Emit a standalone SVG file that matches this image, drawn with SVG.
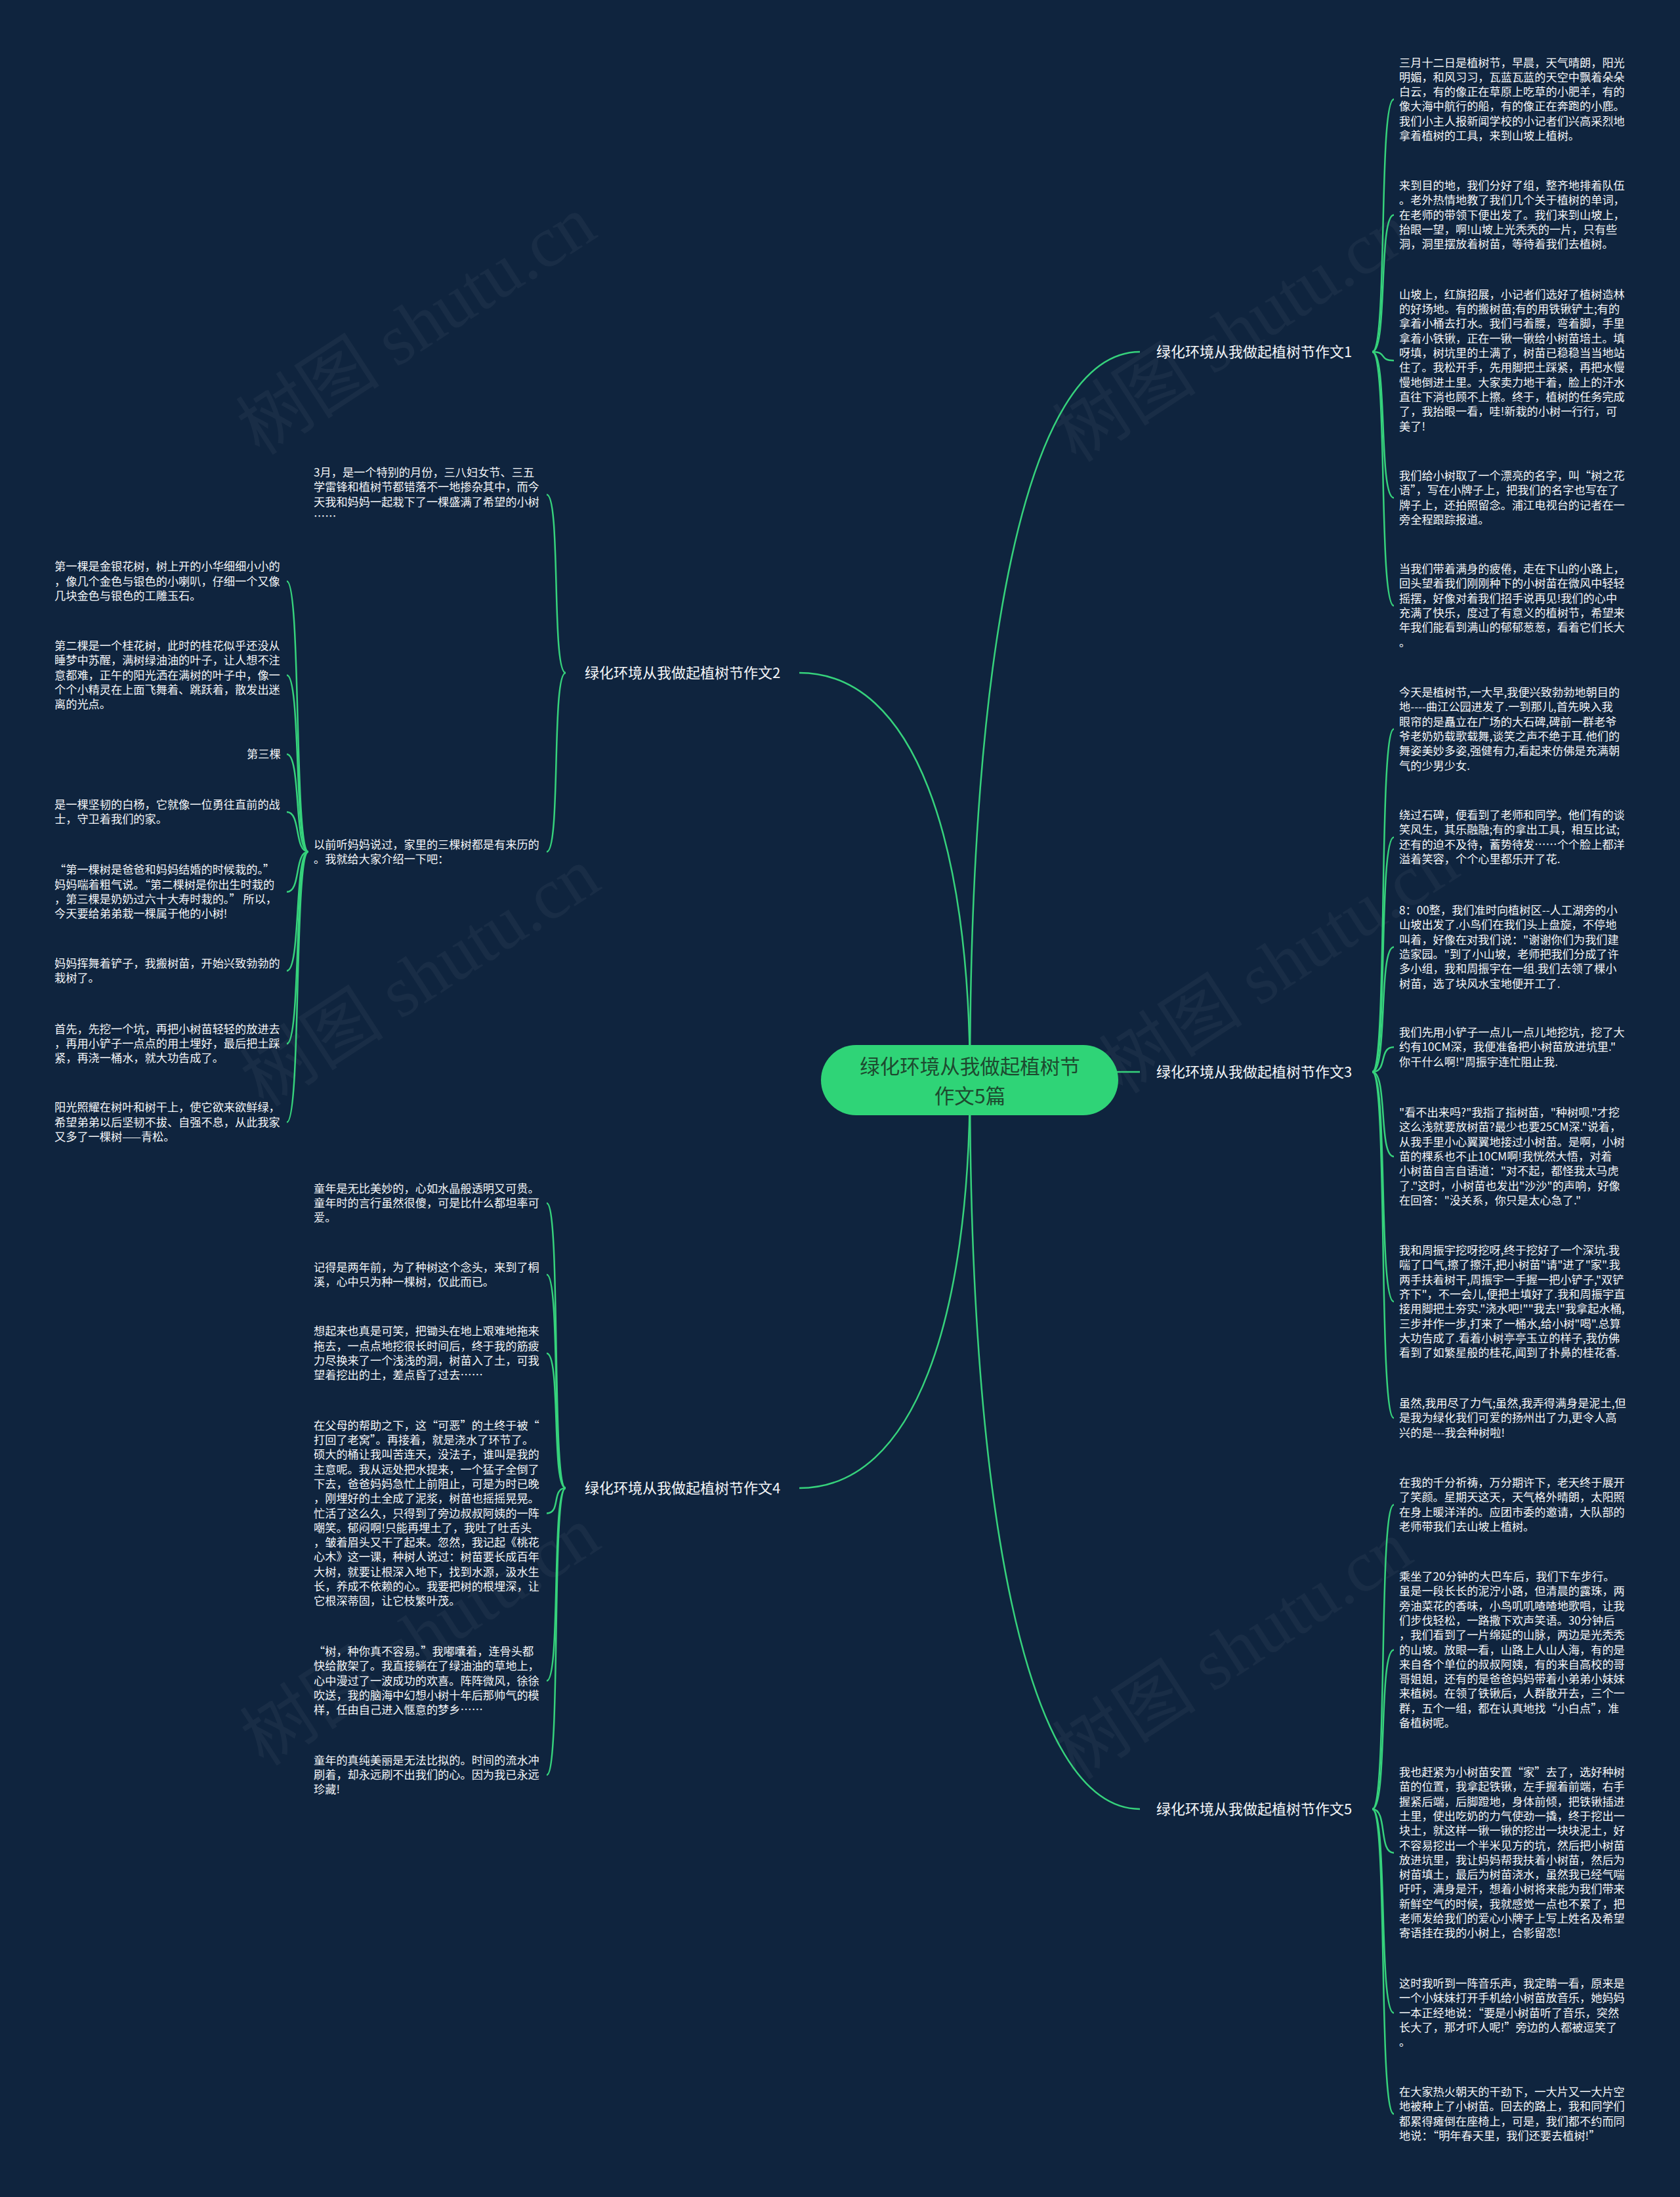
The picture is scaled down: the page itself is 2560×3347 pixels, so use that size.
<svg xmlns="http://www.w3.org/2000/svg" width="2560" height="3347" viewBox="0 0 2560 3347">
<style>
.t{font-family:"Noto Sans CJK SC","Noto Sans",sans-serif;font-size:17.2px;fill:#f4f6f8}
.b{font-family:"Noto Sans CJK SC","Noto Sans",sans-serif;font-size:22px;fill:#f4f6f8}
.c{font-family:"Noto Sans CJK SC","Noto Sans",sans-serif;font-size:30.5px;fill:#1d4a2f;text-anchor:middle}
.ln{fill:none;stroke:#36d27c;stroke-width:2.5}
.wm{font-family:"Liberation Serif","Noto Sans CJK SC",serif;font-size:110px;fill:#ffffff;opacity:0.04;text-anchor:middle}
</style>
<rect width="2560" height="3347" fill="#0f243e"/>
<g id="watermarks">
<text class="wm" x="645" y="530" transform="rotate(-33 645 512)">树图 shutu.cn</text>
<text class="wm" x="1889" y="541" transform="rotate(-33 1889 523)">树图 shutu.cn</text>
<text class="wm" x="651" y="1523" transform="rotate(-33 651 1505)">树图 shutu.cn</text>
<text class="wm" x="1960" y="1503" transform="rotate(-33 1960 1485)">树图 shutu.cn</text>
<text class="wm" x="651" y="2527" transform="rotate(-33 651 2509)">树图 shutu.cn</text>
<text class="wm" x="1889" y="2548" transform="rotate(-33 1889 2530)">树图 shutu.cn</text>
</g>
<g id="connectors">
<path class="ln" d="M1478,1645 C1478,1002 1561,536 1737,536"/>
<path class="ln" d="M1478,1633 L1737,1633"/>
<path class="ln" d="M1478,1645 C1478,2289 1561,2756 1737,2756"/>
<path class="ln" d="M1478,1645 C1478,1285 1395,1025 1218,1025"/>
<path class="ln" d="M1478,1645 C1478,2006 1395,2267 1218,2267"/>
<path class="ln" d="M2091,536 C2115,536 2100,151.3 2124,151.3"/>
<path class="ln" d="M2091,536 C2115,536 2100,327.6 2124,327.6"/>
<path class="ln" d="M2091,536 C2115,536 2100,549.2 2124,549.2"/>
<path class="ln" d="M2091,536 C2115,536 2100,758.5 2124,758.5"/>
<path class="ln" d="M2091,536 C2115,536 2100,922.8 2124,922.8"/>
<path class="ln" d="M2091,1633 C2115,1633 2100,1110.8 2124,1110.8"/>
<path class="ln" d="M2091,1633 C2115,1633 2100,1275.5 2124,1275.5"/>
<path class="ln" d="M2091,1633 C2115,1633 2100,1442.8 2124,1442.8"/>
<path class="ln" d="M2091,1633 C2115,1633 2100,1595.3 2124,1595.3"/>
<path class="ln" d="M2091,1633 C2115,1633 2100,1761.9 2124,1761.9"/>
<path class="ln" d="M2091,1633 C2115,1633 2100,1983 2124,1983"/>
<path class="ln" d="M2091,1633 C2115,1633 2100,2160.3 2124,2160.3"/>
<path class="ln" d="M2091,2756 C2115,2756 2100,2292.5 2124,2292.5"/>
<path class="ln" d="M2091,2756 C2115,2756 2100,2513.5 2124,2513.5"/>
<path class="ln" d="M2091,2756 C2115,2756 2100,2822.7 2124,2822.7"/>
<path class="ln" d="M2091,2756 C2115,2756 2100,3066.6 2124,3066.6"/>
<path class="ln" d="M2091,2756 C2115,2756 2100,3220.5 2124,3220.5"/>
<path class="ln" d="M862,1025 C840,1025 855,753.5 833,753.5"/>
<path class="ln" d="M862,1025 C840,1025 855,1297.6 833,1297.6"/>
<path class="ln" d="M862,2267 C840,2267 855,1833 833,1833"/>
<path class="ln" d="M862,2267 C840,2267 855,1941.8 833,1941.8"/>
<path class="ln" d="M862,2267 C840,2267 855,2061.8 833,2061.8"/>
<path class="ln" d="M862,2267 C840,2267 855,2305.5 833,2305.5"/>
<path class="ln" d="M862,2267 C840,2267 855,2560.6 833,2560.6"/>
<path class="ln" d="M862,2267 C840,2267 855,2704 833,2704"/>
<path class="ln" d="M470,1297.6 C448,1297.6 459,885.6 437,885.6"/>
<path class="ln" d="M470,1297.6 C448,1297.6 459,1028.6 437,1028.6"/>
<path class="ln" d="M470,1297.6 C448,1297.6 459,1149 437,1149"/>
<path class="ln" d="M470,1297.6 C448,1297.6 459,1237 437,1237"/>
<path class="ln" d="M470,1297.6 C448,1297.6 459,1358.8 437,1358.8"/>
<path class="ln" d="M470,1297.6 C448,1297.6 459,1479 437,1479"/>
<path class="ln" d="M470,1297.6 C448,1297.6 459,1590.1 437,1590.1"/>
<path class="ln" d="M470,1297.6 C448,1297.6 459,1709.6 437,1709.6"/>
</g>
<g id="center">
<rect x="1251" y="1592" width="453" height="107" rx="53.5" fill="#2fd477"/>
<text class="c" x="1478" y="1635.5"><tspan x="1478" y="1635.5">绿化环境从我做起植树节</tspan><tspan x="1478" y="1680.5">作文5篇</tspan></text>
</g>
<g id="branch1"><text class="b" x="1762" y="544">绿化环境从我做起植树节作文1</text></g>
<g id="branch2"><text class="b" x="891" y="1033">绿化环境从我做起植树节作文2</text></g>
<g id="branch3"><text class="b" x="1762" y="1641">绿化环境从我做起植树节作文3</text></g>
<g id="branch4"><text class="b" x="891" y="2275">绿化环境从我做起植树节作文4</text></g>
<g id="branch5"><text class="b" x="1762" y="2764">绿化环境从我做起植树节作文5</text></g>
<g id="b1-1"><text class="t" x="2132" y="101.5"><tspan x="2132">三月十二日是植树节，早晨，天气晴朗，阳光</tspan><tspan x="2132" dy="22.3">明媚，和风习习，瓦蓝瓦蓝的天空中飘着朵朵</tspan><tspan x="2132" dy="22.3">白云，有的像正在草原上吃草的小肥羊，有的</tspan><tspan x="2132" dy="22.3">像大海中航行的船，有的像正在奔跑的小鹿。</tspan><tspan x="2132" dy="22.3">我们小主人报新闻学校的小记者们兴高采烈地</tspan><tspan x="2132" dy="22.3">拿着植树的工具，来到山坡上植树。</tspan></text></g>
<g id="b1-2"><text class="t" x="2132" y="289"><tspan x="2132">来到目的地，我们分好了组，整齐地排着队伍</tspan><tspan x="2132" dy="22.3">。老外热情地教了我们几个关于植树的单词，</tspan><tspan x="2132" dy="22.3">在老师的带领下便出发了。我们来到山坡上，</tspan><tspan x="2132" dy="22.3">抬眼一望，啊!山坡上光秃秃的一片，只有些</tspan><tspan x="2132" dy="22.3">洞，洞里摆放着树苗，等待着我们去植树。</tspan></text></g>
<g id="b1-3"><text class="t" x="2132" y="454.8"><tspan x="2132">山坡上，红旗招展，小记者们选好了植树造林</tspan><tspan x="2132" dy="22.3">的好场地。有的搬树苗;有的用铁锹铲土;有的</tspan><tspan x="2132" dy="22.3">拿着小桶去打水。我们弓着腰，弯着脚，手里</tspan><tspan x="2132" dy="22.3">拿着小铁锹，正在一锹一锹给小树苗培土。填</tspan><tspan x="2132" dy="22.3">呀填，树坑里的土满了，树苗已稳稳当当地站</tspan><tspan x="2132" dy="22.3">住了。我松开手，先用脚把土踩紧，再把水慢</tspan><tspan x="2132" dy="22.3">慢地倒进土里。大家卖力地干着，脸上的汗水</tspan><tspan x="2132" dy="22.3">直往下淌也顾不上擦。终于，植树的任务完成</tspan><tspan x="2132" dy="22.3">了，我抬眼一看，哇!新栽的小树一行行，可</tspan><tspan x="2132" dy="22.3">美了!</tspan></text></g>
<g id="b1-4"><text class="t" x="2132" y="731"><tspan x="2132">我们给小树取了一个漂亮的名字，叫“树之花</tspan><tspan x="2132" dy="22.3">语”，写在小牌子上，把我们的名字也写在了</tspan><tspan x="2132" dy="22.3">牌子上，还拍照留念。浦江电视台的记者在一</tspan><tspan x="2132" dy="22.3">旁全程跟踪报道。</tspan></text></g>
<g id="b1-5"><text class="t" x="2132" y="873"><tspan x="2132">当我们带着满身的疲倦，走在下山的小路上，</tspan><tspan x="2132" dy="22.3">回头望着我们刚刚种下的小树苗在微风中轻轻</tspan><tspan x="2132" dy="22.3">摇摆，好像对着我们招手说再见!我们的心中</tspan><tspan x="2132" dy="22.3">充满了快乐，度过了有意义的植树节，希望来</tspan><tspan x="2132" dy="22.3">年我们能看到满山的郁郁葱葱，看着它们长大</tspan><tspan x="2132" dy="22.3">。</tspan></text></g>
<g id="b3-1"><text class="t" x="2132" y="1061"><tspan x="2132">今天是植树节,一大早,我便兴致勃勃地朝目的</tspan><tspan x="2132" dy="22.3">地----曲江公园进发了.一到那儿,首先映入我</tspan><tspan x="2132" dy="22.3">眼帘的是矗立在广场的大石碑,碑前一群老爷</tspan><tspan x="2132" dy="22.3">爷老奶奶载歌载舞,谈笑之声不绝于耳.他们的</tspan><tspan x="2132" dy="22.3">舞姿美妙多姿,强健有力,看起来仿佛是充满朝</tspan><tspan x="2132" dy="22.3">气的少男少女.</tspan></text></g>
<g id="b3-2"><text class="t" x="2132" y="1248"><tspan x="2132">绕过石碑，便看到了老师和同学。他们有的谈</tspan><tspan x="2132" dy="22.3">笑风生，其乐融融;有的拿出工具，相互比试;</tspan><tspan x="2132" dy="22.3">还有的迫不及待，蓄势待发……个个脸上都洋</tspan><tspan x="2132" dy="22.3">溢着笑容，个个心里都乐开了花.</tspan></text></g>
<g id="b3-3"><text class="t" x="2132" y="1393"><tspan x="2132">8：00整，我们准时向植树区--人工湖旁的小</tspan><tspan x="2132" dy="22.3">山坡出发了.小鸟们在我们头上盘旋，不停地</tspan><tspan x="2132" dy="22.3">叫着，好像在对我们说："谢谢你们为我们建</tspan><tspan x="2132" dy="22.3">造家园。"到了小山坡，老师把我们分成了许</tspan><tspan x="2132" dy="22.3">多小组，我和周振宇在一组.我们去领了棵小</tspan><tspan x="2132" dy="22.3">树苗，选了块风水宝地便开工了.</tspan></text></g>
<g id="b3-4"><text class="t" x="2132" y="1579"><tspan x="2132">我们先用小铲子一点儿一点儿地挖坑，挖了大</tspan><tspan x="2132" dy="22.3">约有10CM深，我便准备把小树苗放进坑里."</tspan><tspan x="2132" dy="22.3">你干什么啊!"周振宇连忙阻止我.</tspan></text></g>
<g id="b3-5"><text class="t" x="2132" y="1701"><tspan x="2132">"看不出来吗?"我指了指树苗，"种树呗."才挖</tspan><tspan x="2132" dy="22.3">这么浅就要放树苗?最少也要25CM深."说着，</tspan><tspan x="2132" dy="22.3">从我手里小心翼翼地接过小树苗。是啊，小树</tspan><tspan x="2132" dy="22.3">苗的棵系也不止10CM啊!我恍然大悟，对着</tspan><tspan x="2132" dy="22.3">小树苗自言自语道："对不起，都怪我太马虎</tspan><tspan x="2132" dy="22.3">了."这时，小树苗也发出"沙沙"的声响，好像</tspan><tspan x="2132" dy="22.3">在回答："没关系，你只是太心急了."</tspan></text></g>
<g id="b3-6"><text class="t" x="2132" y="1911"><tspan x="2132">我和周振宇挖呀挖呀,终于挖好了一个深坑.我</tspan><tspan x="2132" dy="22.3">喘了口气,擦了擦汗,把小树苗"请"进了"家".我</tspan><tspan x="2132" dy="22.3">两手扶着树干,周振宇一手握一把小铲子,"双铲</tspan><tspan x="2132" dy="22.3">齐下"，不一会儿,便把土填好了.我和周振宇直</tspan><tspan x="2132" dy="22.3">接用脚把土夯实."浇水吧!""我去!"我拿起水桶,</tspan><tspan x="2132" dy="22.3">三步并作一步,打来了一桶水,给小树"喝".总算</tspan><tspan x="2132" dy="22.3">大功告成了.看着小树亭亭玉立的样子,我仿佛</tspan><tspan x="2132" dy="22.3">看到了如繁星般的桂花,闻到了扑鼻的桂花香.</tspan></text></g>
<g id="b3-7"><text class="t" x="2132" y="2144"><tspan x="2132">虽然,我用尽了力气;虽然,我弄得满身是泥土,但</tspan><tspan x="2132" dy="22.3">是我为绿化我们可爱的扬州出了力,更令人高</tspan><tspan x="2132" dy="22.3">兴的是---我会种树啦!</tspan></text></g>
<g id="b5-1"><text class="t" x="2132" y="2265"><tspan x="2132">在我的千分祈祷，万分期许下，老天终于展开</tspan><tspan x="2132" dy="22.3">了笑颜。星期天这天，天气格外晴朗，太阳照</tspan><tspan x="2132" dy="22.3">在身上暖洋洋的。应团市委的邀请，大队部的</tspan><tspan x="2132" dy="22.3">老师带我们去山坡上植树。</tspan></text></g>
<g id="b5-2"><text class="t" x="2132" y="2408"><tspan x="2132">乘坐了20分钟的大巴车后，我们下车步行。</tspan><tspan x="2132" dy="22.3">虽是一段长长的泥泞小路，但清晨的露珠，两</tspan><tspan x="2132" dy="22.3">旁油菜花的香味，小鸟叽叽喳喳地歌唱，让我</tspan><tspan x="2132" dy="22.3">们步伐轻松，一路撒下欢声笑语。30分钟后</tspan><tspan x="2132" dy="22.3">，我们看到了一片绵延的山脉，两边是光秃秃</tspan><tspan x="2132" dy="22.3">的山坡。放眼一看，山路上人山人海，有的是</tspan><tspan x="2132" dy="22.3">来自各个单位的叔叔阿姨，有的来自高校的哥</tspan><tspan x="2132" dy="22.3">哥姐姐，还有的是爸爸妈妈带着小弟弟小妹妹</tspan><tspan x="2132" dy="22.3">来植树。在领了铁锹后，人群散开去，三个一</tspan><tspan x="2132" dy="22.3">群，五个一组，都在认真地找“小白点”，准</tspan><tspan x="2132" dy="22.3">备植树呢。</tspan></text></g>
<g id="b5-3"><text class="t" x="2132" y="2706"><tspan x="2132">我也赶紧为小树苗安置“家”去了，选好种树</tspan><tspan x="2132" dy="22.3">苗的位置，我拿起铁锹，左手握着前端，右手</tspan><tspan x="2132" dy="22.3">握紧后端，后脚蹬地，身体前倾，把铁锹插进</tspan><tspan x="2132" dy="22.3">土里，使出吃奶的力气使劲一撬，终于挖出一</tspan><tspan x="2132" dy="22.3">块土，就这样一锹一锹的挖出一块块泥土，好</tspan><tspan x="2132" dy="22.3">不容易挖出一个半米见方的坑，然后把小树苗</tspan><tspan x="2132" dy="22.3">放进坑里，我让妈妈帮我扶着小树苗，然后为</tspan><tspan x="2132" dy="22.3">树苗填土，最后为树苗浇水，虽然我已经气喘</tspan><tspan x="2132" dy="22.3">吁吁，满身是汗，想着小树将来能为我们带来</tspan><tspan x="2132" dy="22.3">新鲜空气的时候，我就感觉一点也不累了，把</tspan><tspan x="2132" dy="22.3">老师发给我们的爱心小牌子上写上姓名及希望</tspan><tspan x="2132" dy="22.3">寄语挂在我的小树上，合影留恋!</tspan></text></g>
<g id="b5-4"><text class="t" x="2132" y="3028"><tspan x="2132">这时我听到一阵音乐声，我定睛一看，原来是</tspan><tspan x="2132" dy="22.3">一个小妹妹打开手机给小树苗放音乐，她妈妈</tspan><tspan x="2132" dy="22.3">一本正经地说：“要是小树苗听了音乐，突然</tspan><tspan x="2132" dy="22.3">长大了，那才吓人呢!”旁边的人都被逗笑了</tspan><tspan x="2132" dy="22.3">。</tspan></text></g>
<g id="b5-5"><text class="t" x="2132" y="3193"><tspan x="2132">在大家热火朝天的干劲下，一大片又一大片空</tspan><tspan x="2132" dy="22.3">地被种上了小树苗。回去的路上，我和同学们</tspan><tspan x="2132" dy="22.3">都累得瘫倒在座椅上，可是，我们都不约而同</tspan><tspan x="2132" dy="22.3">地说：“明年春天里，我们还要去植树!”</tspan></text></g>
<g id="b2-1"><text class="t" x="478" y="726"><tspan x="478">3月，是一个特别的月份，三八妇女节、三五</tspan><tspan x="478" dy="22.3">学雷锋和植树节都错落不一地掺杂其中，而今</tspan><tspan x="478" dy="22.3">天我和妈妈一起栽下了一棵盛满了希望的小树</tspan><tspan x="478" dy="22.3">……</tspan></text></g>
<g id="b2-2"><text class="t" x="478" y="1292.5"><tspan x="478">以前听妈妈说过，家里的三棵树都是有来历的</tspan><tspan x="478" dy="22.3">。我就给大家介绍一下吧：</tspan></text></g>
<g id="b2-2-1"><text class="t" x="83" y="869.3"><tspan x="83">第一棵是金银花树，树上开的小华细细小小的</tspan><tspan x="83" dy="22.3">，像几个金色与银色的小喇叭，仔细一个又像</tspan><tspan x="83" dy="22.3">几块金色与银色的工雕玉石。</tspan></text></g>
<g id="b2-2-2"><text class="t" x="83" y="990"><tspan x="83">第二棵是一个桂花树，此时的桂花似乎还没从</tspan><tspan x="83" dy="22.3">睡梦中苏醒，满树绿油油的叶子，让人想不注</tspan><tspan x="83" dy="22.3">意都难，正午的阳光洒在满树的叶子中，像一</tspan><tspan x="83" dy="22.3">个个小精灵在上面飞舞着、跳跃着，散发出迷</tspan><tspan x="83" dy="22.3">离的光点。</tspan></text></g>
<g id="b2-2-3"><text class="t" x="376" y="1155">第三棵</text></g>
<g id="b2-2-4"><text class="t" x="83" y="1232"><tspan x="83">是一棵坚韧的白杨，它就像一位勇往直前的战</tspan><tspan x="83" dy="22.3">士，守卫着我们的家。</tspan></text></g>
<g id="b2-2-5"><text class="t" x="83" y="1331.3"><tspan x="83">“第一棵树是爸爸和妈妈结婚的时候栽的。”</tspan><tspan x="83" dy="22.3">妈妈喘着粗气说。“第二棵树是你出生时栽的</tspan><tspan x="83" dy="22.3">，第三棵是奶奶过六十大寿时栽的。” 所以，</tspan><tspan x="83" dy="22.3">今天要给弟弟栽一棵属于他的小树!</tspan></text></g>
<g id="b2-2-6"><text class="t" x="83" y="1474"><tspan x="83">妈妈挥舞着铲子，我搬树苗，开始兴致勃勃的</tspan><tspan x="83" dy="22.3">栽树了。</tspan></text></g>
<g id="b2-2-7"><text class="t" x="83" y="1573.8"><tspan x="83">首先，先挖一个坑，再把小树苗轻轻的放进去</tspan><tspan x="83" dy="22.3">，再用小铲子一点点的用土埋好，最后把土踩</tspan><tspan x="83" dy="22.3">紧，再浇一桶水，就大功告成了。</tspan></text></g>
<g id="b2-2-8"><text class="t" x="83" y="1693.3"><tspan x="83">阳光照耀在树叶和树干上，使它欲来欲鲜绿，</tspan><tspan x="83" dy="22.3">希望弟弟以后坚韧不拔、自强不息，从此我家</tspan><tspan x="83" dy="22.3">又多了一棵树——青松。</tspan></text></g>
<g id="b4-1"><text class="t" x="478" y="1816.7"><tspan x="478">童年是无比美妙的，心如水晶般透明又可贵。</tspan><tspan x="478" dy="22.3">童年时的言行虽然很傻，可是比什么都坦率可</tspan><tspan x="478" dy="22.3">爱。</tspan></text></g>
<g id="b4-2"><text class="t" x="478" y="1936.7"><tspan x="478">记得是两年前，为了种树这个念头，来到了桐</tspan><tspan x="478" dy="22.3">溪，心中只为种一棵树，仅此而已。</tspan></text></g>
<g id="b4-3"><text class="t" x="478" y="2034.3"><tspan x="478">想起来也真是可笑，把锄头在地上艰难地拖来</tspan><tspan x="478" dy="22.3">拖去，一点点地挖很长时间后，终于我的筋疲</tspan><tspan x="478" dy="22.3">力尽换来了一个浅浅的洞，树苗入了土，可我</tspan><tspan x="478" dy="22.3">望着挖出的土，差点昏了过去……</tspan></text></g>
<g id="b4-4"><text class="t" x="478" y="2177.7"><tspan x="478">在父母的帮助之下，这“可恶”的土终于被“</tspan><tspan x="478" dy="22.3">打回了老窝”。再接着，就是浇水了环节了。</tspan><tspan x="478" dy="22.3">硕大的桶让我叫苦连天，没法子，谁叫是我的</tspan><tspan x="478" dy="22.3">主意呢。我从远处把水提来，一个猛子全倒了</tspan><tspan x="478" dy="22.3">下去，爸爸妈妈急忙上前阻止，可是为时已晚</tspan><tspan x="478" dy="22.3">，刚埋好的土全成了泥浆，树苗也摇摇晃晃。</tspan><tspan x="478" dy="22.3">忙活了这么久，只得到了旁边叔叔阿姨的一阵</tspan><tspan x="478" dy="22.3">嘲笑。郁闷啊!只能再埋土了，我吐了吐舌头</tspan><tspan x="478" dy="22.3">，皱着眉头又干了起来。忽然，我记起《桃花</tspan><tspan x="478" dy="22.3">心木》这一课，种树人说过：树苗要长成百年</tspan><tspan x="478" dy="22.3">大树，就要让根深入地下，找到水源，汲水生</tspan><tspan x="478" dy="22.3">长，养成不依赖的心。我要把树的根埋深，让</tspan><tspan x="478" dy="22.3">它根深蒂固，让它枝繁叶茂。</tspan></text></g>
<g id="b4-5"><text class="t" x="478" y="2522"><tspan x="478">“树，种你真不容易。”我嘟囔着，连骨头都</tspan><tspan x="478" dy="22.3">快给散架了。我直接躺在了绿油油的草地上，</tspan><tspan x="478" dy="22.3">心中漫过了一波成功的欢喜。阵阵微风，徐徐</tspan><tspan x="478" dy="22.3">吹送，我的脑海中幻想小树十年后那帅气的模</tspan><tspan x="478" dy="22.3">样，任由自己进入惬意的梦乡……</tspan></text></g>
<g id="b4-6"><text class="t" x="478" y="2687.7"><tspan x="478">童年的真纯美丽是无法比拟的。时间的流水冲</tspan><tspan x="478" dy="22.3">刷着，却永远刷不出我们的心。因为我已永远</tspan><tspan x="478" dy="22.3">珍藏!</tspan></text></g>
</svg>
